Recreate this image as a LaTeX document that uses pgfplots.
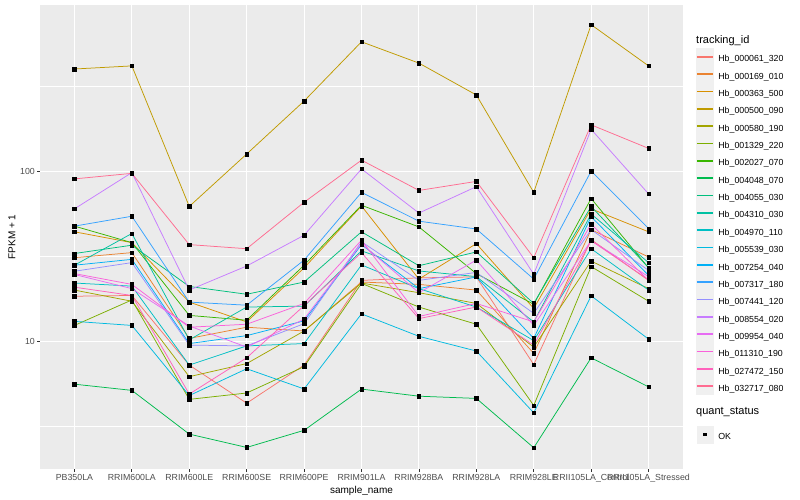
\documentclass[border=0pt]{standalone}
\usepackage{fontspec}
\setmainfont{Liberation Sans}
\usepackage{pgfplots}
\usepackage{pgfplotstable}
\pgfplotsset{compat=1.18}

% ggplot2 hue palette, 20 levels
\definecolor{c1}{HTML}{F8766D}
\definecolor{c2}{HTML}{EA8331}
\definecolor{c3}{HTML}{D89000}
\definecolor{c4}{HTML}{C09B00}
\definecolor{c5}{HTML}{A3A500}
\definecolor{c6}{HTML}{7CAE00}
\definecolor{c7}{HTML}{39B600}
\definecolor{c8}{HTML}{00BB4E}
\definecolor{c9}{HTML}{00BF7D}
\definecolor{c10}{HTML}{00C1A3}
\definecolor{c11}{HTML}{00BFC4}
\definecolor{c12}{HTML}{00BAE0}
\definecolor{c13}{HTML}{00B0F6}
\definecolor{c14}{HTML}{35A2FF}
\definecolor{c15}{HTML}{9590FF}
\definecolor{c16}{HTML}{C77CFF}
\definecolor{c17}{HTML}{E76BF3}
\definecolor{c18}{HTML}{FA62DB}
\definecolor{c19}{HTML}{FF62BC}
\definecolor{c20}{HTML}{FF6C91}
\definecolor{panel}{HTML}{EBEBEB}
\definecolor{keybg}{HTML}{F0F0F0}
\definecolor{ticktxt}{HTML}{4D4D4D}
\definecolor{tickln}{HTML}{333333}

% FPKM + 1 per sample (rows) and gene (columns)
\pgfplotstableread{
x  s1    s2    s3    s4   s5    s6    s7    s8    s9    s10   s11   s12   s13   s14   s15   s16   s17   s18   s19   s20
0  18.4  31    44    398  20    12.4  47.5  5.6   32.8  28    22    13.1  28    47.5  25.8  60    24.7  25    20.8  90
1  18.6  33.2  38    415  17.2  17.5  38    5.15  36.7  43    21.1  12.4  30.3  54.3  29    98    20.4  21.6  18.6  97
2  7.25  10.4  17    62   6.2   4.56  14.2  2.85  21    10.2  7.25  4.8   9.7   17    9.5   20    12.3  12.1  4.9   37
3  4.33  12.1  13    126  7.4   4.97  13.3  2.38  18.9  15.9  9.4   6.9   10.8  16.3  9.4   27.7  9.25  12.6  8.0   35
4  7.25  11.5  27    258  11.5  7.1   28    3.0   22.3  16.1  9.7   5.25  13.2  30    12.7  42    13.5  16.7  16.2  65.6
5  22.8  22.3  62.4  575  22    21.9  63    5.24  44    34    28.1  14.5  37    75    38.5  103   37.5  39.3  33.2  116
6  23.6  21.6  23.2  431  19.3  15.9  47    4.76  27.8  25.9  20.4  10.7  20.4  50.8  22.8  56.7  19.3  14    13.6  77
7  23.9  20    37.5  280  16.7  12.6  25    4.62  33.5  24    15.9  8.77  23.9  45.7  25.4  81    30    16.7  15.9  87
8  7.3   8.5   15.6  75   9.25  4.2   16.5  2.37  16.7  13    10.1  3.8   10.4  23.2  14.6  24.8  12.4  13    9.5   31
9  39.6  45.3  60    725  29.6  27.5  69    8.0   62    56    35    18.5  54    100   45.3  176   39    48.8  39    187
10 22.8  31.3  44    415  20.4  17.2  27    5.4   27.1  29    20    10.3  24.4  46    26.1  73.5  24    22.8  23    136
}\fpkm

\begin{document}
\begin{tikzpicture}
\useasboundingbox (0,0) rectangle (800pt,500pt);
\begin{axis}[
    at={(40pt,31pt)}, anchor=south west,
    scale only axis,
    width=643pt, height=464pt,
    ymode=log,
    xmin=-0.6, xmax=10.6,
    ymin=1.778, ymax=946,
    xtick={0,...,10},
    xticklabels={PB350LA,RRIM600LA,RRIM600LE,RRIM600SE,RRIM600PE,RRIM901LA,RRIM928BA,RRIM928LA,RRIM928LE,RRII105LA\_Control,RRII105LA\_Stressed},
    ytick={10,100},
    yticklabels={10,100},
    minor ytick={3.1623,31.623,316.23},
    minor tick length=0pt,
    major tick length=2.75pt,
    tick align=outside,
    tick style={color=tickln, line width=0.8pt},
    xtick pos=bottom, ytick pos=left,
    axis line style={draw=none},
    axis background/.style={fill=panel},
    xmajorgrids, ymajorgrids, yminorgrids,
    major grid style={white, line width=1.07pt},
    minor grid style={white, line width=0.53pt},
    ticklabel style={font=\fontsize{8.8}{10}\selectfont, color=ticktxt, inner sep=0pt},
    xticklabel style={anchor=north, yshift=-2.2pt},
    yticklabel style={anchor=east, xshift=-2.2pt},
    /pgf/number format/assume math mode=true,
    xlabel={sample\_name},
    ylabel={FPKM + 1},
    label style={font=\fontsize{11}{13}\selectfont},
    every axis x label/.style={at={(axis description cs:0.5,-0.0474)}, anchor=center},
    every axis y label/.style={at={(axis description cs:-0.0435,0.5)}, anchor=center, rotate=90},
    legend image code/.code={
        \fill[keybg, overlay] (0.5pt,-8.14pt) rectangle (16.78pt,8.14pt);
        \draw[#1, line width=1.6pt] (0.5pt,0pt) -- (16.78pt,0pt);
    },
    legend cell align=left,
    legend style={at={(axis description cs:1.0202,0.9071)}, anchor=north west,
        draw=none, fill=none, inner sep=0pt, outer sep=0pt,
        row sep=0pt, column sep=2.5pt, font=\fontsize{8.8}{10}\selectfont,
        cells={inner sep=0pt, outer sep=0pt, text height=11.84pt, text depth=5.44pt}},
]
\pgfplotsinvokeforeach{1,...,20}{
    \addplot[c#1, line width=0.75pt] table[x=x, y=s#1] {\fpkm};
}
\pgfplotsinvokeforeach{1,...,20}{
    \addplot[only marks, mark=square*, mark size=1.75pt, black, forget plot] table[x=x, y=s#1] {\fpkm};
}
\addlegendentry{Hb\_000061\_320}
\addlegendentry{Hb\_000169\_010}
\addlegendentry{Hb\_000363\_500}
\addlegendentry{Hb\_000500\_090}
\addlegendentry{Hb\_000580\_190}
\addlegendentry{Hb\_001329\_220}
\addlegendentry{Hb\_002027\_070}
\addlegendentry{Hb\_004048\_070}
\addlegendentry{Hb\_004055\_030}
\addlegendentry{Hb\_004310\_030}
\addlegendentry{Hb\_004970\_110}
\addlegendentry{Hb\_005539\_030}
\addlegendentry{Hb\_007254\_040}
\addlegendentry{Hb\_007317\_180}
\addlegendentry{Hb\_007441\_120}
\addlegendentry{Hb\_008554\_020}
\addlegendentry{Hb\_009954\_040}
\addlegendentry{Hb\_011310\_190}
\addlegendentry{Hb\_027472\_150}
\addlegendentry{Hb\_032717\_080}
\addlegendimage{empty legend}
\addlegendentry[text height=13.5pt, text depth=13.5pt]{}
\addlegendimage{legend image code/.code={
        \fill[keybg, overlay] (0.5pt,-8.14pt) rectangle (16.78pt,8.14pt);
        \path[draw=none, fill=none] (0.5pt,0pt) -- (16.78pt,0pt);
        \fill[black, draw=none] (7.04pt,-1.75pt) rectangle (10.54pt,1.75pt);}}
\addlegendentry{OK}
\end{axis}
\node[anchor=west, font=\fontsize{11}{13}\selectfont, inner sep=0pt] at (696pt,459.3pt) {tracking\_id};
\node[anchor=west, font=\fontsize{11}{13}\selectfont, inner sep=0pt] at (696pt,87.7pt) {quant\_status};
\end{tikzpicture}
\end{document}
